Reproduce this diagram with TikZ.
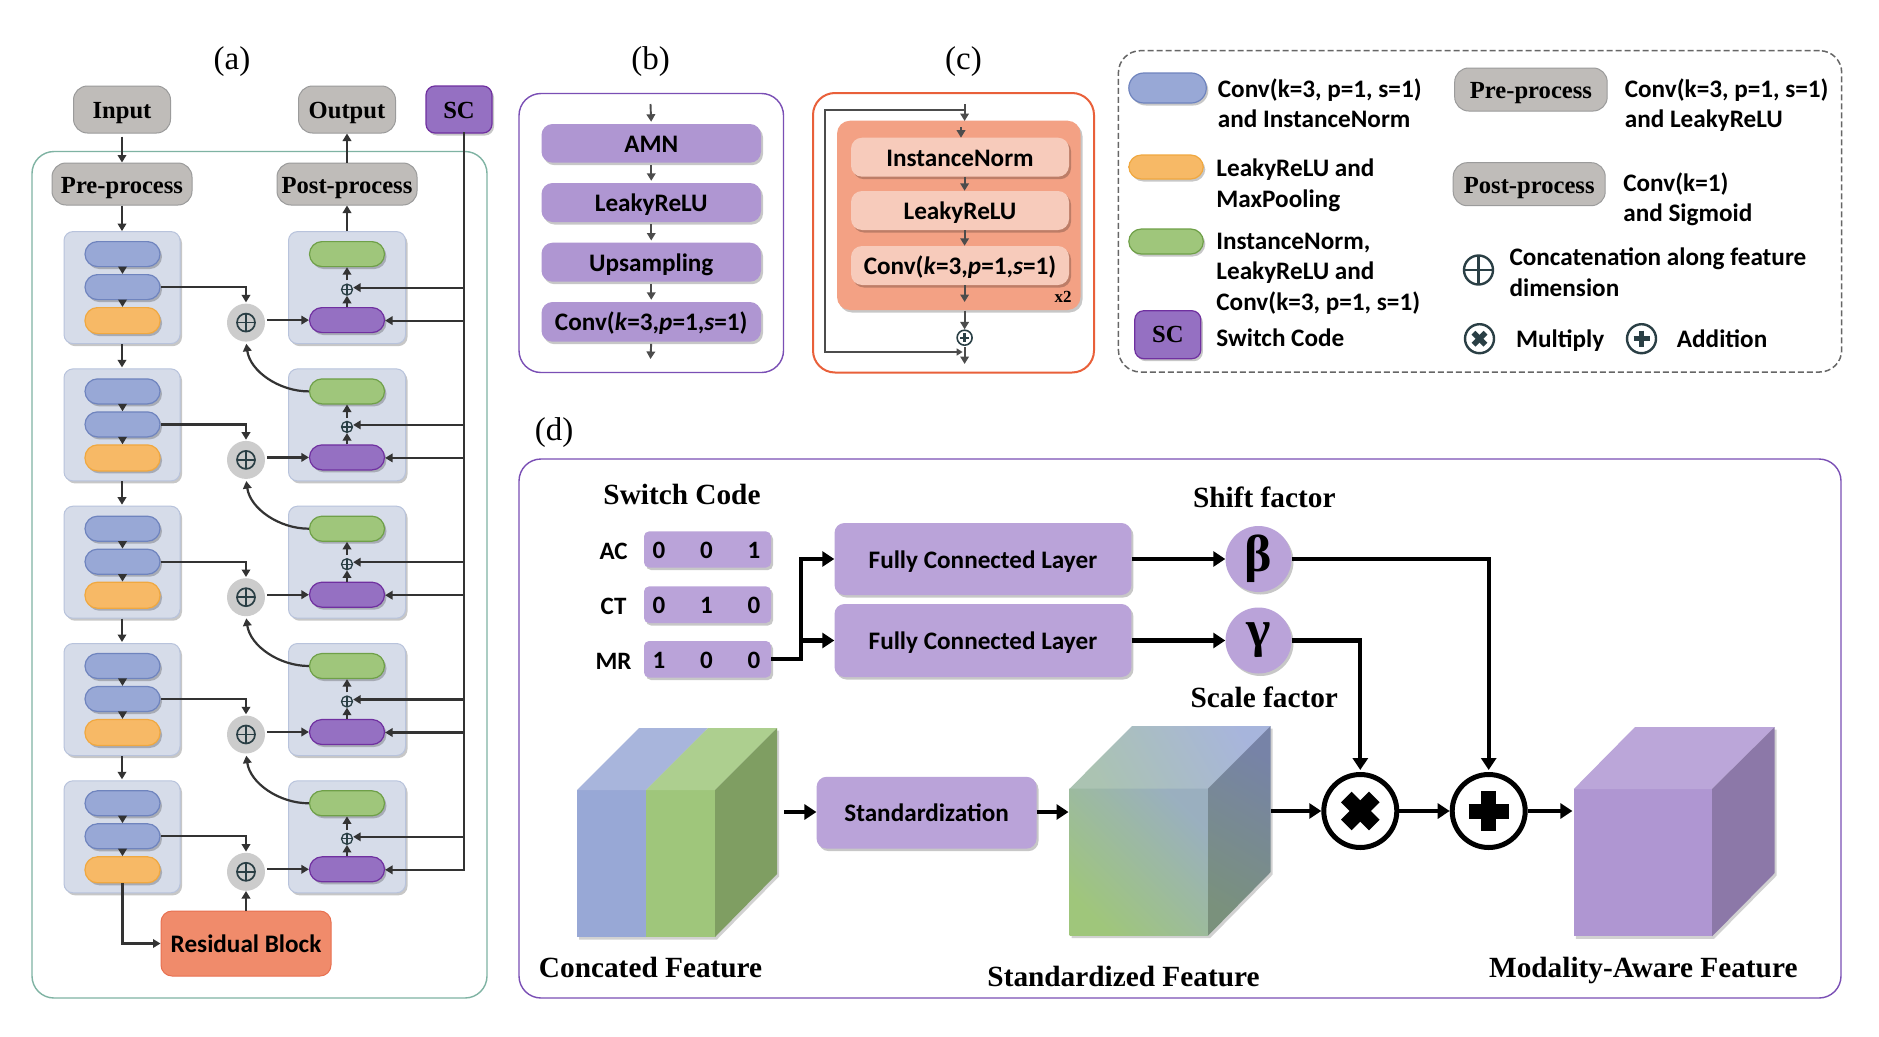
\documentclass[tikz,border=0pt]{standalone}
\usepackage{fontspec}
\setmainfont{Carlito}
\newfontfamily\lser{Liberation Serif}
\usetikzlibrary{arrows.meta,shadows,calc}
\newcommand\fsz[1]{\fontsize{#1}{#1}\selectfont}
\newcommand\pb[7]{%
  \pgfmathsetmacro\pbcx{((#2)+(#4))/2}\pgfmathsetmacro\pbcy{((#3)+(#5))/2}%
  \pgfmathsetmacro\pbw{(#4)-(#2)}\pgfmathsetmacro\pbh{(#5)-(#3)}%
  \node[#6,inner sep=0pt,minimum width=\pbw pt,minimum height=\pbh pt] (#1) at (\pbcx,\pbcy) {#7};}
\definecolor{cblue}{HTML}{98A8D6}\definecolor{cblueb}{HTML}{6F84BE}
\definecolor{corange}{HTML}{F7B966}\definecolor{corangeb}{HTML}{F0A840}
\definecolor{cgreen}{HTML}{9FC67B}\definecolor{cgreenb}{HTML}{6FA048}
\definecolor{cpurple}{HTML}{9570C2}\definecolor{cpurpleb}{HTML}{7030A0}
\definecolor{cgray}{HTML}{BFBCB9}\definecolor{cgrayb}{HTML}{9B9B9B}
\definecolor{cblock}{HTML}{D6DCE9}\definecolor{cblockb}{HTML}{B8C3DC}
\definecolor{clav}{HTML}{AF96D2}\definecolor{clavd}{HTML}{BAA3D9}
\definecolor{csalm}{HTML}{F3A184}\definecolor{csalml}{HTML}{F7CBBB}
\definecolor{cres}{HTML}{F08B6B}\definecolor{cresb}{HTML}{E87050}
\definecolor{cdark}{HTML}{2A3F45}
\definecolor{cteal}{HTML}{7FB3A3}
\definecolor{cfred}{HTML}{E9603A}
\definecolor{cfpur}{HTML}{7A4FB5}
\tikzset{
  shad/.style={drop shadow={shadow xshift=2pt,shadow yshift=-2.5pt,opacity=.22,fill=black}},
  pill/.style={rounded corners=12.5pt,shad,line width=1.2pt},
  pblue/.style={pill,fill=cblue,draw=cblueb},
  porange/.style={pill,fill=corange,draw=corangeb},
  pgreen/.style={pill,fill=cgreen,draw=cgreenb},
  ppurple/.style={pill,fill=cpurple,draw=cpurpleb},
  block/.style={rounded corners=9pt,fill=cblock,draw=cblockb,line width=1pt,shad},
  graybox/.style={rounded corners=14pt,fill=cgray,draw=cgrayb,line width=1pt,font=\lser\bfseries\fsz{24.6},text height=22pt,text depth=4pt},
  sansmid/.style={font=\bfseries\fsz{25.2},text height=22pt,text depth=4pt},
  lavbox/.style={rounded corners=11pt,fill=clav,shad,sansmid},
  fcbox/.style={rounded corners=10pt,fill=clavd,shad,sansmid},
  codebox/.style={rounded corners=5pt,fill=clavd,shad},
  salpill/.style={rounded corners=11pt,fill=csalml,shad,sansmid},
  frame/.style={rounded corners=22pt,line width=1.4pt},
  arr/.style={draw=black!80,line width=2.2pt,-{Triangle[length=7.5pt,width=8.5pt]}},
  garr/.style={draw=black!70,line width=1.9pt,-{Triangle[length=7.5pt,width=8.5pt]}},
  bigarr/.style={draw=black,line width=4.2pt,-{Triangle[length=12pt,width=15pt]}},
  lab/.style={font=\lser\fsz{33},inner sep=0pt},
  stitle/.style={font=\lser\bfseries\fsz{29.3},inner sep=0pt},
  ltxt/.style={font=\bfseries\fsz{25.2},anchor=west,inner sep=0pt,text height=21pt,text depth=5pt},
  mono/.style={font=\bfseries\fsz{25},inner sep=0pt},
  cross/.style={circle,inner sep=0pt,path picture={
    \draw[cdark,line width=#1] (path picture bounding box.north) -- (path picture bounding box.south);
    \draw[cdark,line width=#1] (path picture bounding box.west) -- (path picture bounding box.east);}},
  cross/.default=1.6pt,
  ring/.style={circle,inner sep=0pt,fill=white},
}
\begin{document}
\begin{tikzpicture}[x=1pt,y=-1pt]
\useasboundingbox (0,0) rectangle (1879,1036);
\fill[white] (0,0) rectangle (1879,1036);

% ---------- (a)
\node[lab] (la) at (232,62) {(a)};
\pb{fa}{32}{151.5}{487}{998}{frame,draw=cteal}{}
\pb{inp}{73.5}{86}{170.5}{133}{graybox}{Input}
\pb{outp}{298.5}{86}{395.5}{133}{graybox}{Output}
\pb{sc}{426}{86}{492}{133}{rounded corners=9pt,fill=cpurple,draw=cpurpleb,line width=1.2pt,shad,font=\lser\bfseries\fsz{24.6},text height=19pt,text depth=1pt}{SC}
\pb{pre}{52}{163}{192}{205}{graybox}{Pre-process}
\pb{post}{277}{163}{417}{205}{graybox}{Post-process}
\pb{res}{161}{911}{331}{976}{rounded corners=11pt,fill=cres,draw=cresb,line width=1pt,sansmid}{Residual Block}

\foreach \i in {0,...,4}{
  \pgfmathsetmacro\t{231.6+137.3*\i}
  \pb{LB\i}{64}{\t}{180}{\t+112}{block}{}
  \pb{RB\i}{288.5}{\t}{405.5}{\t+112}{block}{}
  \pb{LA\i}{85}{\t+10}{160}{\t+35}{pblue}{}
  \pb{LC\i}{85}{\t+43}{160}{\t+68}{pblue}{}
  \pb{LD\i}{85}{\t+76}{160}{\t+102}{porange}{}
  \pb{RG\i}{309.5}{\t+10}{384.5}{\t+35}{pgreen}{}
  \pb{RP\i}{309.5}{\t+76}{384.5}{\t+101}{ppurple}{}
  \pgfmathsetmacro\sy{\t+58}
  \node[cross=1.3pt,draw=cdark,line width=1.3pt,minimum size=11pt,fill=cblock] (SO\i) at (347,\sy) {};
  \pgfmathsetmacro\by{\t+91}
  \node[circle,fill=black!20,minimum size=38pt,inner sep=0pt] (BO\i) at (246,\by) {};
  \node[cross=1.7pt,draw=cdark,line width=1.7pt,minimum size=18pt] (BX\i) at (BO\i) {};
  \pgfmathsetmacro\ya{\t+56}\pgfmathsetmacro\yb{\t+89}
  \coordinate (BA\i) at (464,\ya);
  \coordinate (BB\i) at (464,\yb);
  \draw[arr] (LA\i.south) -- (LC\i.north);
  \draw[arr] (LC\i.south) -- (LD\i.north);
  \draw[arr,shorten >=1pt] (LC\i.east) -| (BO\i.north);
  \draw[arr,shorten <=2pt] (BO\i.east |- RP\i.west) -- (RP\i.west);
  \draw[arr] (RP\i.north) -- (SO\i.south);
  \draw[arr,shorten <=3pt] (SO\i.north) -- (RG\i.south);
  \draw[arr] (BA\i) -- (BA\i -| SO\i.east);
  \draw[arr] (BB\i) -- (BB\i -| RP\i.east);
}
\foreach \i/\j in {0/1,1/2,2/3,3/4}{
  \draw[arr,shorten >=1pt] (LB\i.south) -- (LB\j.north);
  \draw[arr,shorten >=2pt] (RG\j.west) to[out=180,in=-82,looseness=.95] (BO\i.south);
}
\draw[draw=black!80,line width=2.6pt,line cap=rect] ([xshift=5pt]sc.south) -- (BB4);
\draw[arr,shorten <=3pt] (inp.south) -- (pre.north);
\draw[arr] (pre.south) -- (LB0.north);
\draw[arr] (RB0.north) -- (post.south);
\draw[arr] (post.north) -- (outp.south);
\draw[arr] (LD4.south) |- (res.west);
\draw[arr] (res.north) -- (BO4.south);

% ---------- (b)
\node[lab] (lb) at (650.5,62) {(b)};
\pb{fb}{519}{93.5}{783.5}{372.5}{frame,draw=cfpur}{}
\coordinate (bin) at (650.5,104);
\coordinate (bout) at (650.5,359);
\pb{b1}{541.5}{124}{761}{162.7}{lavbox}{AMN}
\pb{b2}{541.5}{183}{761}{222}{lavbox}{LeakyReLU}
\pb{b3}{541.5}{242.7}{761}{281.7}{lavbox}{Upsampling}
\pb{b4}{541.5}{302}{761}{341.7}{lavbox}{Conv(\textit{k}=3,\textit{p}=1,\textit{s}=1)}
\draw[garr,shorten >=2pt] (bin) -- (b1.north);
\draw[garr,shorten <=2pt,shorten >=2pt] (b1.south) -- (b2.north);
\draw[garr,shorten <=2pt,shorten >=2pt] (b2.south) -- (b3.north);
\draw[garr,shorten <=2pt,shorten >=2pt] (b3.south) -- (b4.north);
\draw[garr,shorten <=2pt] (b4.south) -- (bout);

% ---------- (c)
\node[lab] (lc) at (963.5,62) {(c)};
\pb{fc}{813}{93}{1094}{372.5}{frame,draw=cfred,line width=2pt}{}
\pb{cs}{837}{120.7}{1080.5}{310}{rounded corners=13pt,fill=csalm,shad}{}
\pb{c1}{851}{137.7}{1069}{176.7}{salpill}{InstanceNorm}
\pb{c2}{851}{191}{1069}{230}{salpill}{LeakyReLU}
\pb{c3}{851}{246}{1069}{285}{salpill}{Conv(\textit{k}=3,\textit{p}=1,\textit{s}=1)}
\node[font=\lser\bfseries\fsz{17},inner sep=0pt] (x2) at (1063,296.7) {x2};
\coordinate (cin) at (964.6,104);
\coordinate (csk) at (964.6,110.3);
\coordinate (cin2) at (964.6,121);
\coordinate (cia) at (961,127);
\coordinate (cib) at (961,137.7);
\coordinate (cl) at (825,110.3);
\coordinate (cout) at (964.6,364);
\coordinate (cj) at (964.6,352);
\coordinate (cc3) at (964.6,285);
\coordinate (cc3b) at (964.6,302);
\coordinate (cs0) at (964.6,310.7);
\node[circle,draw=cdark,line width=1.6pt,minimum size=15pt,inner sep=0pt,fill=white] (cplus) at (964.6,337.7) {};
\fill[cdark] ($(cplus)+(-4.5,-1.2)$) rectangle ($(cplus)+(4.5,1.2)$);
\fill[cdark] ($(cplus)+(-1.2,-4.5)$) rectangle ($(cplus)+(1.2,4.5)$);
\draw[garr] (cin) -- (cin2);
\draw[garr] (cia) -- (cib);
\draw[garr] (c1.south -| cin) -- (c2.north -| cin);
\draw[garr] (c2.south -| cin) -- (c3.north -| cin);
\draw[garr] (cc3) -- (cc3b);
\draw[garr] (cs0) -- (cplus.north);
\draw[garr,shorten <=1pt] (cplus.south) -- (cout);
\draw[draw=black!70,line width=2pt,-{Triangle[length=6pt,width=7pt]}] (csk) -- (cl) |- ([xshift=-2pt]cj);

% ---------- legend
\pb{fl}{1118.4}{50.7}{1841.7}{372}{frame,draw=black!60,dash pattern=on 6pt off 3pt,line width=1.5pt}{}
\pb{lg1}{1128.8}{73}{1206.3}{103}{pblue,rounded corners=15pt}{}
\node[ltxt] (t1) at (1217.7,89) {Conv(k=3, p=1, s=1)};
\node[ltxt] (t2) at (1217.7,119) {and InstanceNorm};
\pb{lg2}{1128.8}{155}{1203.3}{179}{porange}{}
\node[ltxt] (t3) at (1216.2,168) {LeakyReLU and};
\node[ltxt] (t4) at (1216.2,199) {MaxPooling};
\pb{lg3}{1128.8}{229}{1203.3}{254}{pgreen}{}
\node[ltxt] (t5) at (1216.2,241.7) {InstanceNorm,};
\node[ltxt] (t6) at (1216.2,271.7) {LeakyReLU and};
\node[ltxt] (t7) at (1216.2,302) {Conv(k=3, p=1, s=1)};
\pb{lg4}{1134.8}{310.7}{1200.8}{358.7}{rounded corners=9pt,fill=cpurple,draw=cpurpleb,line width=1.2pt,shad,font=\lser\bfseries\fsz{24.6}}{SC}
\node[ltxt] (t8) at (1216.2,338) {Switch Code};
\pb{lg5}{1454.7}{68}{1607.2}{111}{graybox}{Pre-process}
\node[ltxt] (t9) at (1624.6,89) {Conv(k=3, p=1, s=1)};
\node[ltxt] (t10) at (1624.6,119) {and LeakyReLU};
\pb{lg6}{1453.2}{162.7}{1605.2}{205.7}{graybox}{Post-process}
\node[ltxt] (t11) at (1623.1,183) {Conv(k=1)};
\node[ltxt] (t12) at (1623.1,213) {and Sigmoid};
\node[cross=2.4pt,draw=cdark,line width=2.4pt,minimum size=29pt] (lgo) at (1478.5,270) {};
\node[ltxt] (t13) at (1509.3,257) {Concatenation along feature};
\node[ltxt] (t14) at (1509.3,288) {dimension};
\node[ring,draw=cdark,line width=2.4pt,minimum size=29pt] (lgm) at (1479.5,338.7) {};
\draw[cdark,line width=5.5pt] ($(lgm)+(-6,-6)$) -- ($(lgm)+(6,6)$);
\draw[cdark,line width=5.5pt] ($(lgm)+(-6,6)$) -- ($(lgm)+(6,-6)$);
\node[ltxt] (t15) at (1515.8,339) {Multiply};
\node[ring,draw=cdark,line width=2.4pt,minimum size=29pt] (lga) at (1641.5,338.7) {};
\draw[cdark,line width=5.5pt] ($(lga)+(-8,0)$) -- ($(lga)+(8,0)$);
\draw[cdark,line width=5.5pt] ($(lga)+(0,-8)$) -- ($(lga)+(0,8)$);
\node[ltxt] (t16) at (1676.7,339) {Addition};

% ---------- (d)
\node[lab] (ld) at (554,433) {(d)};
\pb{fd}{519}{459}{1841}{998}{frame,draw=cfpur}{}
\node[stitle] (ts) at (682,494.6) {Switch Code};
\node[mono] (ac) at (613.6,551) {AC};
\node[mono] (ct) at (613.6,606) {CT};
\node[mono] (mr) at (613.6,661) {MR};
\pb{cac}{644}{531.4}{771}{567.5}{codebox}{}
\pb{cct}{644}{586.4}{771}{623}{codebox}{}
\pb{cmr}{644}{641}{771}{677.5}{codebox}{}
\foreach \nm/\y/\a/\b/\c in {a/550.5/0/0/1,b/605.7/0/1/0,c/660.3/1/0/0}{
  \node[mono] (d1\nm) at (659,\y) {\a};
  \node[mono] (d2\nm) at (706.4,\y) {\b};
  \node[mono] (d3\nm) at (754,\y) {\c};
}
\pb{fc1}{834.5}{523}{1131.4}{595}{fcbox}{Fully Connected Layer}
\pb{fc2}{834.5}{604}{1131.4}{677}{fcbox}{Fully Connected Layer}
\node[circle,fill=clavd,minimum size=66pt,inner sep=0pt,shad,font=\lser\bfseries\fsz{52}] (beta) at (1258.5,559) {β};
\node[circle,fill=clavd,minimum size=66pt,inner sep=0pt,shad,font=\lser\bfseries\fsz{52}] (gam) at (1258.5,640.5) {γ};
\node[stitle] (sf) at (1264.3,497) {Shift factor};
\node[stitle] (scf) at (1264.3,697) {Scale factor};
\coordinate (jt) at (801,559);
\coordinate (jm) at (801,640.5);
\draw[bigarr] (cmr.east) -| (jt) -- (fc1.west);
\draw[bigarr] (jm) -- (fc2.west);
\draw[bigarr] (fc1.east) -- (beta.west);
\draw[bigarr] (fc2.east) -- (gam.west);

% cube 1
\fill[black,opacity=.18,xshift=2pt,yshift=-2.5pt] (577,790) -- (577,937) -- (715,937) -- (777,874) -- (777,728) -- (639,728) -- cycle;
\fill[cblue] (577,790) rectangle (646,937);
\fill[cgreen] (646,790) rectangle (715,937);
\fill[cblue!85!white] (577,790) -- (639,728) -- (708,728) -- (646,790) -- cycle;
\fill[cgreen!85!white] (646,790) -- (708,728) -- (777,728) -- (715,790) -- cycle;
\fill[cgreen!80!black] (715,790) -- (777,728) -- (777,874) -- (715,937) -- cycle;
\coordinate (c1e) at (784,812);
\node[stitle] (tc1) at (650.6,968) {Concated Feature};

\pb{std}{816.6}{776.8}{1036.5}{848.6}{fcbox}{Standardization}
\draw[bigarr] (c1e) -- (c1e -| std.west);
\coordinate (c2w) at (1068.5,812);
\draw[bigarr] (c2w -| std.east) -- (c2w);

% cube 2
\fill[black,opacity=.18,xshift=2pt,yshift=-2.5pt] (1069.7,788.6) -- (1069.7,935.7) -- (1208,935.7) -- (1270.7,872) -- (1270.7,726) -- (1132,726) -- cycle;
\shade[shading=axis,left color=cgreen,right color=cblue!75!cgreen,shading angle=135] (1069.7,788.6) rectangle (1208,935.7);
\shade[shading=axis,left color=cgreen!55!cblue!85!white,right color=cblue!85!white,shading angle=120] (1069.7,788.6) -- (1132,726) -- (1270.7,726) -- (1208,788.6) -- cycle;
\shade[shading=axis,left color=cgreen!60!cblue!78!black,right color=cblue!78!black,shading angle=150] (1208,788.6) -- (1270.7,726) -- (1270.7,872) -- (1208,935.7) -- cycle;
\coordinate (c2e) at (1270.7,811);
\node[stitle] (tc2) at (1123.5,977) {Standardized Feature};

% mul / add
\node[ring,draw=black,line width=5pt,minimum size=73pt] (mul) at (1360.3,811) {};
\node[ring,draw=black,line width=5pt,minimum size=73pt] (add) at (1488.7,811) {};
\draw[black,line width=15pt] ($(mul)+(-14,-14)$) -- ($(mul)+(14,14)$);
\draw[black,line width=15pt] ($(mul)+(-14,14)$) -- ($(mul)+(14,-14)$);
\draw[black,line width=15pt] ($(add)+(-20,0)$) -- ($(add)+(20,0)$);
\draw[black,line width=15pt] ($(add)+(0,-20)$) -- ($(add)+(0,20)$);
\draw[bigarr] (c2e) -- (mul.west);
\draw[bigarr] (mul.east) -- (add.west);
\draw[bigarr,shorten >=2pt] (gam.east) -| (mul.north);
\draw[bigarr,shorten >=2pt] (beta.east) -| (add.north);
\coordinate (c3w) at (1572.4,811);
\draw[bigarr] (add.east) -- (c3w);

% cube 3
\fill[black,opacity=.18,xshift=2pt,yshift=-2.5pt] (1573.8,789) -- (1573.8,936.4) -- (1712,936.4) -- (1774.7,873) -- (1774.7,727) -- (1635,727) -- cycle;
\fill[clav] (1573.8,789) rectangle (1712,936.4);
\fill[clav!85!white] (1573.8,789) -- (1635,727) -- (1774.7,727) -- (1712,789) -- cycle;
\fill[clav!80!black] (1712,789) -- (1774.7,727) -- (1774.7,873) -- (1712,936.4) -- cycle;
\node[stitle] (tc3) at (1643.3,970.5) {Modality-Aware Feature};
\end{tikzpicture}
\end{document}
